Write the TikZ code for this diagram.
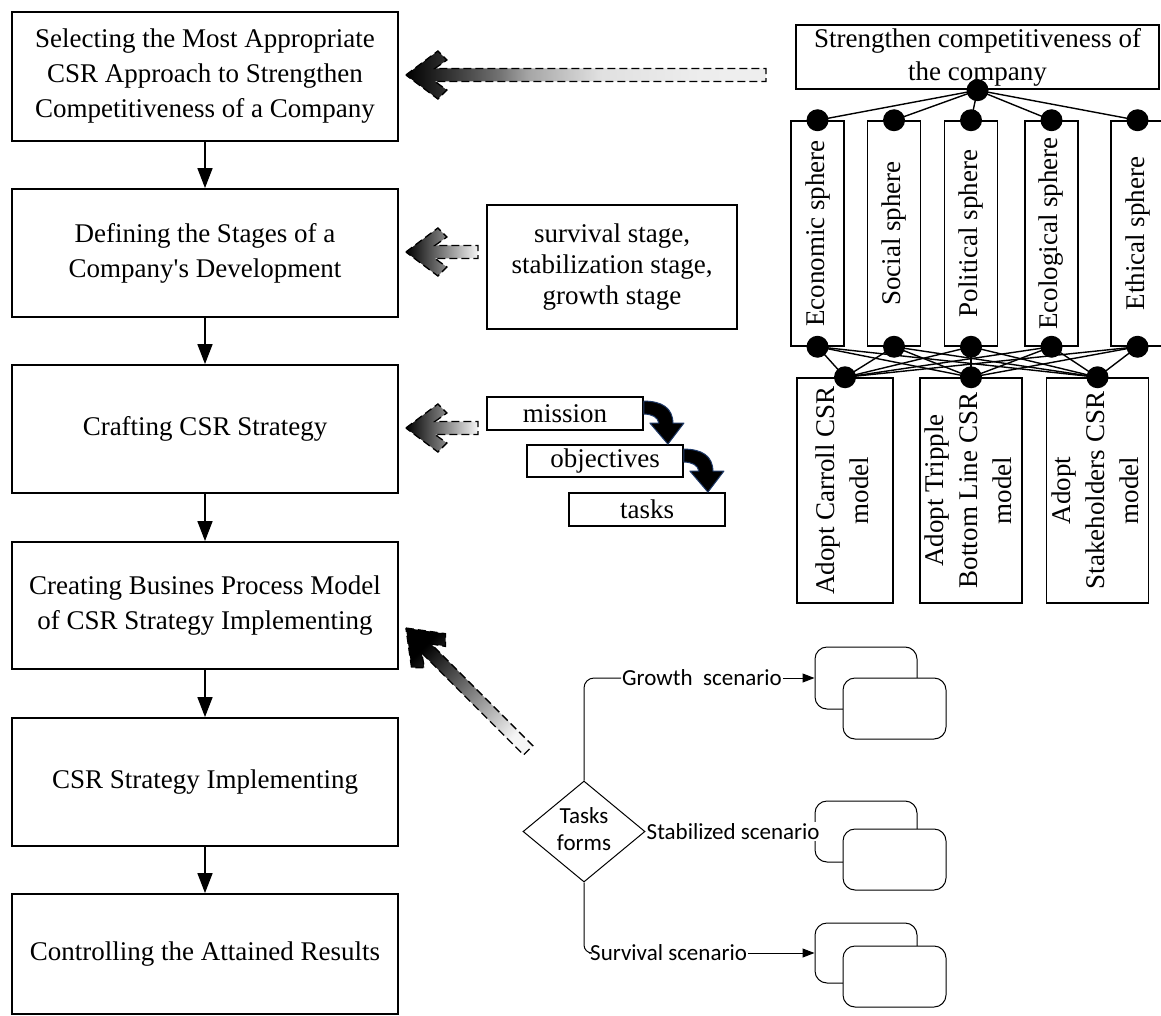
\documentclass[tikz,border=0pt]{standalone}
\usepackage{fontspec}
\setmainfont{Liberation Serif}[Ligatures=TeXOff]
\newfontfamily\calfont{Carlito}
\usepackage{graphicx}
\usetikzlibrary{arrows.meta,calc,shapes.geometric}
\definecolor{arrowblue}{HTML}{1F3A68}
\pgfdeclarehorizontalshading{fadeA}{100bp}{color(0bp)=(black); color(25bp)=(black); color(31bp)=(black!80); color(38bp)=(black!55); color(42bp)=(black!35); color(52bp)=(black!12); color(66bp)=(black!7); color(100bp)=(black!5)}
\newcommand{\blockarrow}[4]{%
  \begin{scope}[shift={#1}, rotate=#2]
    \shade[#4] (0,0) -- (32,-24) -- (41,-15) -- (29,-6.5) -- (#3,-6.5) -- (#3,6.5) -- (29,6.5) -- (41,15) -- (32,24) -- cycle;
    \draw[line width=1.3pt, dash pattern=on 8pt off 4pt, line join=miter] (0,0) -- (32,-24) -- (41,-15) -- (29,-6.5) -- (#3,-6.5) -- (#3,6.5) -- (29,6.5) -- (41,15) -- (32,24) -- cycle;
  \end{scope}}
\newcommand{\bendarrow}[1]{%
  \begin{scope}[shift={#1}]
    \filldraw[fill=black, draw=arrowblue, line width=1pt, line join=round] (0,5) .. controls (18,5) and (29,12) .. (29,27) -- (40,27) -- (24,48) -- (6,27) -- (15,27) .. controls (14,21) and (8,18) .. (0,18) -- cycle;
  \end{scope}}
\begin{document}
\begin{tikzpicture}[x=1pt,y=-1pt,
  mainbox/.style={draw, line width=1.8pt, minimum width=386pt, inner sep=0pt, align=center, font=\fontsize{27}{35}\selectfont},
  flowarrow/.style={line width=1.5pt, -{Triangle[length=20pt,width=15pt]}},
  serifbox/.style={draw, line width=1.8pt, inner sep=0pt, align=center, font=\fontsize{27}{31}\selectfont},
  sph/.style={draw, line width=1.5pt, minimum width=53pt, minimum height=225pt, inner sep=0pt, font=\fontsize{27}{34}\selectfont},
  modelbox/.style={draw, line width=1.5pt, minimum width=96pt, minimum height=225pt, inner sep=0pt, font=\fontsize{27}{34}\selectfont},
  conn/.style={line width=1.4pt},
  stxt/.style={inner sep=1pt, font=\calfont\fontsize{23}{27}\selectfont},
  rrect/.style={draw, line width=1pt, rounded corners=12pt, fill=white},
  thinline/.style={line width=1pt}
]
\useasboundingbox (0,0) rectangle (1161,1016);
\clip (0,0) rectangle (1161,1016);

% left column
\node[mainbox, minimum height=129pt] (b1) at (205,76.5) {Selecting the Most Appropriate\\CSR Approach to Strengthen\\Competitiveness of a Company};
\node[mainbox, minimum height=128pt] (b2) at (205,253) {Defining the Stages of a\\Company's Development};
\node[mainbox, minimum height=128pt] (b3) at (205,429) {Crafting CSR Strategy};
\node[mainbox, minimum height=127pt] (b4) at (205,605.5) {Creating Busines Process Model\\of CSR Strategy Implementing};
\node[mainbox, minimum height=128pt] (b5) at (205,782) {CSR Strategy Implementing};
\node[mainbox, minimum height=120pt] (b6) at (205,954) {Controlling the Attained Results};
\draw[flowarrow] (b1.south) -- (b2.north);
\draw[flowarrow] (b2.south) -- (b3.north);
\draw[flowarrow] (b3.south) -- (b4.north);
\draw[flowarrow] (b4.south) -- (b5.north);
\draw[flowarrow] (b5.south) -- (b6.north);

% right top structure
\node[draw, line width=2.4pt, minimum width=363pt, minimum height=64pt, inner sep=0pt, align=center, font=\fontsize{27}{33}\selectfont] (tb) at (977.5,57) {Strengthen competitiveness of\\the company};
\node[sph] (sp1) at (817.5,233.5) {\rotatebox{90}{Economic sphere}};
\node[sph] (sp2) at (894,233.5) {\rotatebox{90}{Social sphere}};
\node[sph] (sp3) at (971,233.5) {\rotatebox{90}{Political sphere}};
\node[sph] (sp4) at (1051.5,233.5) {\rotatebox{90}{Ecological sphere}};
\node[sph] (sp5) at (1137.5,233.5) {\rotatebox{90}{Ethical sphere}};
\node[modelbox] (m1) at (845,490.5) {\rotatebox{90}{\begin{tabular}{@{}c@{}}Adopt Carroll CSR\\model\end{tabular}}};
\node[modelbox] (m2) at (971,490.5) {\rotatebox{90}{\begin{tabular}{@{}c@{}}Adopt Tripple\\Bottom Line CSR\\model\end{tabular}}};
\node[modelbox] (m3) at (1097.5,490.5) {\rotatebox{90}{\begin{tabular}{@{}c@{}}Adopt\\Stakeholders CSR\\model\end{tabular}}};
\foreach \s in {sp1,sp2,sp3,sp4,sp5} {
  \draw[conn] (tb.south) -- (\s.north);
  \foreach \m in {m1,m2,m3} \draw[conn] (\s.south) -- (\m.north);
}
\foreach \p in {tb.south,sp1.north,sp2.north,sp3.north,sp4.north,sp5.north,sp1.south,sp2.south,sp3.south,sp4.south,sp5.south,m1.north,m2.north,m3.north}
  \fill (\p) circle (11pt);

% middle boxes
\node[serifbox, minimum width=250pt, minimum height=124pt] (stages) at (612,267) {survival stage,\\stabilization stage,\\growth stage};
\node[serifbox, minimum width=156pt, minimum height=33pt] (mission) at (565,413.5) {mission};
\node[serifbox, minimum width=156pt, minimum height=32pt] (objectives) at (605,461) {objectives};
\node[serifbox, minimum width=156pt, minimum height=33pt] (tasks) at (647,509.5) {tasks};
\bendarrow{(mission.north east)}
\bendarrow{(objectives.north east)}

% block arrows
\blockarrow{($(b1.east)+(7,-1.5)$)}{0}{360}{shading=fadeA}
\blockarrow{($(b2.east)+(7,-1)$)}{0}{72}{left color=black, right color=black!4}
\blockarrow{($(b3.east)+(7,-1)$)}{0}{72}{left color=black, right color=black!4}
\blockarrow{($(b4.east)+(7,22.5)$)}{-45}{173}{top color=black, bottom color=black!4, shading angle=45}

% scenarios
\node[diamond, draw, thinline, minimum width=122pt, minimum height=101pt, inner sep=0pt, font=\calfont\fontsize{23}{27}\selectfont] (tf) at (584,831.5) {\smash{\raisebox{-6pt}{\begin{tabular}{@{}c@{}}Tasks\\forms\end{tabular}}}};
\node[rrect, minimum width=102pt, minimum height=62pt] (g1) at (866,678) {};
\node[rrect, minimum width=103pt, minimum height=61pt] (g2) at (894.5,708.5) {};
\node[rrect, minimum width=102pt, minimum height=61pt] (t1) at (866,831.5) {};
\node[rrect, minimum width=103pt, minimum height=61pt] (t2) at (894.5,859.5) {};
\node[rrect, minimum width=102pt, minimum height=60pt] (v1) at (866,953) {};
\node[rrect, minimum width=103pt, minimum height=61pt] (v2) at (894.5,976.5) {};
\node[stxt, anchor=west] (gtext) at (621,678) {Growth\ \ scenario};
\node[stxt, anchor=west, fill=white] (btext) at (tf.east) {Stabilized scenario};
\node[stxt, anchor=west] (vtext) at (589,953) {Survival scenario};
\draw[thinline, rounded corners=10pt] (tf.north) |- (gtext.west);
\draw[thinline, rounded corners=8pt] (tf.south) |- (vtext.west);
\draw[thinline, -{Triangle[length=12pt,width=9pt]}] (gtext.east) -- (g1.west);
\draw[thinline, -{Triangle[length=12pt,width=9pt]}] (vtext.east) -- (v1.west);
\end{tikzpicture}
\end{document}
